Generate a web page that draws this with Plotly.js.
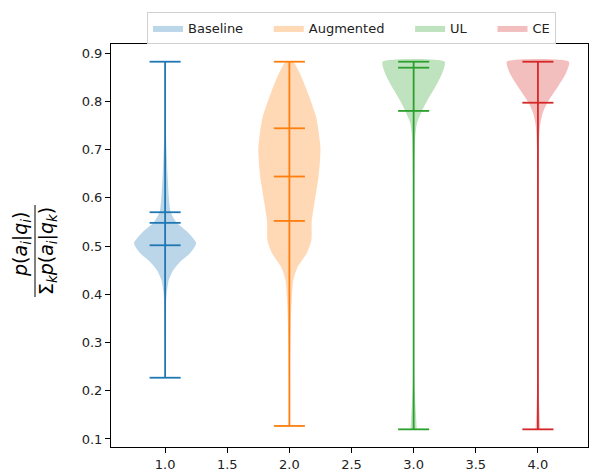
<!DOCTYPE html>
<html><head><meta charset="utf-8">
<script src="https://cdn.plot.ly/plotly-3.0.1.min.js"></script>
<style>body{margin:0;background:#fff}#chart{width:590px;height:472px}</style>
</head><body><div id="chart"></div>
<script>
// ---- data ----
const names = ['Baseline', 'Augmented', 'UL', 'CE'];
const positions = [1, 2, 3, 4];
const minVals = [0.227, 0.127, 0.120, 0.120];
const maxVals = [0.882, 0.882, 0.882, 0.882];
const statLines = [
  [0.570, 0.548, 0.5015],
  [0.744, 0.644, 0.552],
  [0.8696, 0.780],
  [0.797]
];
// density profile: y levels and half-widths (x units)
const baselineY = [0.227, 0.30, 0.35, 0.38, 0.403, 0.43, 0.45, 0.467, 0.485, 0.506, 0.529, 0.548, 0.570, 0.595, 0.651, 0.72, 0.78, 0.882];
const baselineW = [0.0, 0.001, 0.003, 0.006, 0.013, 0.03, 0.065, 0.12, 0.2, 0.25, 0.18, 0.094, 0.045, 0.032, 0.019, 0.008, 0.003, 0.001];
const augmentedY = [0.127, 0.20, 0.305, 0.374, 0.43, 0.457, 0.485, 0.512, 0.552, 0.595, 0.644, 0.702, 0.768, 0.823, 0.86, 0.882];
const augmentedW = [0.0, 0.002, 0.008, 0.016, 0.032, 0.067, 0.14, 0.177, 0.18, 0.205, 0.235, 0.25, 0.215, 0.14, 0.08, 0.03];
const ulY = [0.120, 0.154, 0.202, 0.25, 0.35, 0.5, 0.651, 0.727, 0.755, 0.78, 0.803, 0.830, 0.858, 0.882];
const ulW = [0.025, 0.018, 0.008, 0.003, 0.002, 0.002, 0.005, 0.013, 0.027, 0.067, 0.113, 0.175, 0.23, 0.25];
const ceY = [0.120, 0.167, 0.22, 0.3, 0.5, 0.65, 0.706, 0.747, 0.775, 0.797, 0.830, 0.858, 0.882];
const ceW = [0.019, 0.011, 0.004, 0.002, 0.002, 0.003, 0.008, 0.016, 0.038, 0.075, 0.16, 0.226, 0.25];
const densityY = [baselineY, augmentedY, ulY, ceY];
const densityW = [baselineW, augmentedW, ulW, ceW];

// ---- style ----
const colors = ['#1f77b4', '#ff7f0e', '#2ca02c', '#d62728'];
const fills = ['rgba(31,119,180,0.3)', 'rgba(255,127,14,0.3)', 'rgba(44,160,44,0.3)', 'rgba(214,39,40,0.3)'];
const legendPad = [5, 5, 5, 0]; // non-breaking spaces after each legend label (column spacing)
const capHalf = 0.125;
const FONT = 'DejaVu Sans, sans-serif';

const traces = [];
names.forEach((nm, i) => {
  const p = positions[i];
  const ys = densityY[i], ws = densityW[i];
  const x = [], y = [];
  for (let k = 0; k < ys.length; k++) { x.push(p + ws[k]); y.push(ys[k]); }
  for (let k = ys.length - 1; k >= 0; k--) { x.push(p - ws[k]); y.push(ys[k]); }
  traces.push({
    type: 'scatter', mode: 'lines', x: x, y: y, fill: 'toself',
    fillcolor: fills[i], line: {width: 0, color: fills[i], shape: 'spline', smoothing: 0.6},
    name: nm + '\u00a0'.repeat(legendPad[i]), hoverinfo: 'skip', showlegend: true
  });
});
names.forEach((nm, i) => {
  const p = positions[i];
  const lx = [p, p, null], ly = [minVals[i], maxVals[i], null];
  [minVals[i], maxVals[i]].concat(statLines[i]).forEach(v => {
    lx.push(p - capHalf, p + capHalf, null);
    ly.push(v, v, null);
  });
  traces.push({
    type: 'scatter', mode: 'lines', x: lx, y: ly,
    line: {color: colors[i], width: 1.8}, showlegend: false, hoverinfo: 'skip'
  });
});

const L = 111, R = 2, T = 44, B = 25, W = 590, H = 472;
const pw = W - L - R, ph = H - T - B;
const px = v => (v - L) / pw;
const py = v => (H - B - v) / ph;

const layout = {
  width: W, height: H,
  margin: {l: L, r: R, t: T, b: B, pad: 0},
  paper_bgcolor: '#fff', plot_bgcolor: '#fff',
  font: {family: FONT, size: 13, color: '#222'},
  showlegend: true,
  legend: {
    orientation: 'h', x: px(351.5), xanchor: 'center', y: py(12), yanchor: 'top',
    bordercolor: '#d0d0d0', borderwidth: 1, bgcolor: '#fff',
    font: {family: FONT, size: 13, color: '#222'}
  },
  xaxis: {
    range: [0.5645, 4.403], tick0: 1, dtick: 0.5, tickformat: '.1f',
    ticks: 'outside', ticklen: 5, tickcolor: '#000', showline: true, mirror: true,
    linecolor: '#000', linewidth: 1, showgrid: false, zeroline: false
  },
  yaxis: {
    range: [0.0834, 0.9187], tick0: 0.1, dtick: 0.1, tickformat: '.1f',
    ticks: 'outside', ticklen: 5, tickcolor: '#000', showline: true, mirror: true,
    linecolor: '#000', linewidth: 1, showgrid: false, zeroline: false
  },
  annotations: [
    {xref: 'paper', yref: 'paper', x: px(21), y: py(245), xanchor: 'center', yanchor: 'middle',
     showarrow: false, textangle: -90,
     text: '<i>p</i>(<i>a<sub>i</sub></i>|<i>q<sub>i</sub></i>)', font: {family: FONT, size: 19, color: '#000'}},
    {xref: 'paper', yref: 'paper', x: px(47), y: py(251), xanchor: 'center', yanchor: 'middle',
     showarrow: false, textangle: -90,
     text: 'Σ<sub><i>k</i></sub><i>p</i>(<i>a<sub>i</sub></i>|<i>q<sub>k</sub></i>)', font: {family: FONT, size: 19, color: '#000'}}
  ],
  shapes: [
    {type: 'line', xref: 'paper', yref: 'paper', x0: px(35), x1: px(35), y0: py(297), y1: py(205),
     line: {color: '#000', width: 1}}
  ]
};

Plotly.newPlot('chart', traces, layout, {displayModeBar: false, staticPlot: true});
</script>
</body></html>
